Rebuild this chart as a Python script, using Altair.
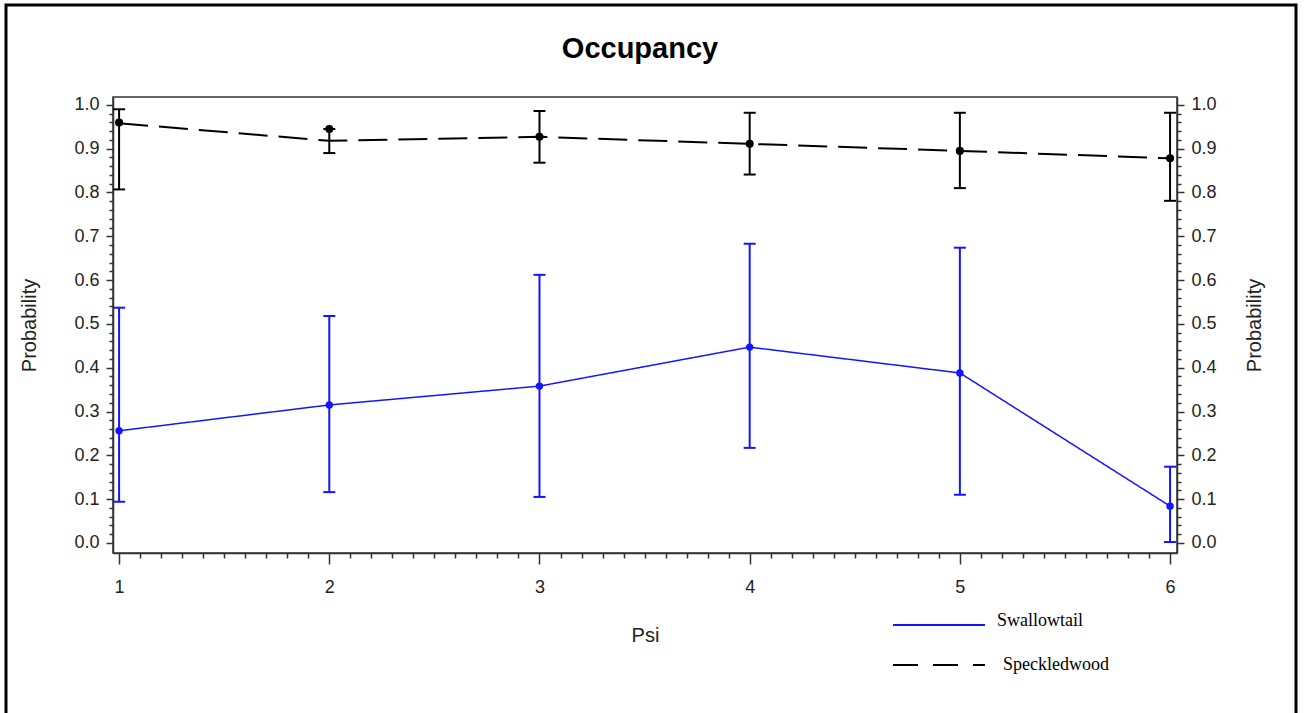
import altair as alt
import pandas as pd

# ---- data ----
psi = [1, 2, 3, 4, 5, 6]
series_names = ["Swallowtail", "Speckledwood"]

swallow_est = [0.256, 0.315, 0.358, 0.447, 0.388, 0.084]
swallow_lower = [0.094, 0.116, 0.105, 0.217, 0.110, 0.002]
swallow_upper = [0.537, 0.518, 0.612, 0.683, 0.674, 0.174]

speck_est = [0.960, 0.945, 0.927, 0.911, 0.895, 0.878]
speck_line = [0.958, 0.918, 0.927, 0.911, 0.895, 0.878]
speck_lower = [0.807, 0.890, 0.868, 0.841, 0.810, 0.781]
speck_upper = [0.990, 0.945, 0.986, 0.982, 0.982, 0.982]

x_tick_values = [round(1 + 0.1 * k, 1) for k in range(51)]
y_tick_values = [round(0.02 * k, 2) for k in range(51)]

sw = pd.DataFrame({"psi": psi, "est": swallow_est, "line": swallow_est,
                   "lower": swallow_lower, "upper": swallow_upper})
sp = pd.DataFrame({"psi": psi, "est": speck_est, "line": speck_line,
                   "lower": speck_lower, "upper": speck_upper})

BLUE = "#1414ff"
FONT = "Liberation Sans"
LABEL = "#222222"

xscale = alt.Scale(domain=[0.971, 6.033], nice=False, zero=False)
yscale = alt.Scale(domain=[-0.023, 1.018], nice=False, zero=False)

xaxis = alt.Axis(
    values=x_tick_values,
    labelExpr="abs(datum.value - round(datum.value)) < 0.001 ? format(datum.value, 'd') : ''",
    tickSize={"condition": {"test": "abs(datum.value - round(datum.value)) < 0.001", "value": 11}, "value": 5},
    labelPadding=14,
    title="Psi", titlePadding=29, titleFontSize=20, titleFont=FONT, titleFontWeight="normal",
    titleColor=LABEL, labelFont=FONT, labelFontSize=18, labelColor=LABEL,
    grid=False, domainColor="#333333", domainWidth=1.5, tickColor="#333333", tickWidth=1.5,
    labelFlush=False, labelOverlap=False,
)

def yaxis(orient, title_pad):
    return alt.Axis(
        orient=orient,
        values=y_tick_values,
        labelExpr="abs(datum.value*10 - round(datum.value*10)) < 0.001 ? format(datum.value, '.1f') : ''",
        tickSize={"condition": {"test": "abs(datum.value*10 - round(datum.value*10)) < 0.001", "value": 7}, "value": 4},
        labelPadding=7,
        title="Probability", titlePadding=title_pad, titleFontSize=20, titleFont=FONT,
        titleFontWeight="normal", titleColor=LABEL, titleAngle=270,
        labelFont=FONT, labelFontSize=18, labelColor=LABEL,
        grid=False, domainColor="#333333", domainWidth=1.5, tickColor="#333333", tickWidth=1.5,
        labelFlush=False, labelOverlap=False,
    )

X = alt.X("psi:Q", scale=xscale, axis=xaxis)

def series_layers(df, color, dash, width, axis, pt_size):
    base = alt.Chart(df)
    line = base.mark_line(color=color, strokeWidth=width, strokeDash=dash).encode(
        x=X, y=alt.Y("line:Q", scale=yscale, axis=axis))
    bar = base.mark_rule(color=color, strokeWidth=2).encode(
        x=X, y=alt.Y("lower:Q", scale=yscale, axis=None), y2="upper:Q")
    cap_lo = base.mark_rule(color=color, strokeWidth=2, xOffset=-6, x2Offset=6).encode(
        x=X, x2="psi:Q", y=alt.Y("lower:Q", scale=yscale, axis=None))
    cap_hi = base.mark_rule(color=color, strokeWidth=2, xOffset=-6, x2Offset=6).encode(
        x=X, x2="psi:Q", y=alt.Y("upper:Q", scale=yscale, axis=None))
    pts = base.mark_circle(color=color, size=pt_size, opacity=1).encode(
        x=X, y=alt.Y("est:Q", scale=yscale, axis=None))
    return [line, bar, cap_lo, cap_hi, pts]

sw_layers = series_layers(sw, BLUE, [1, 0], 1.5, yaxis("left", 34), 55)
sp_layers = series_layers(sp, "black", [29, 11], 2, yaxis("right", 48), 65)

# manual legend (two rows)
leg1 = pd.DataFrame({"series": [series_names[0]]})
leg2 = pd.DataFrame({"series": [series_names[1]]})
leg_line1 = alt.Chart(leg1).mark_rule(color=BLUE, strokeWidth=2).encode(
    x=alt.value(780), x2=alt.value(872), y=alt.value(528))
leg_text1 = alt.Chart(leg1).mark_text(align="left", baseline="middle", font="Liberation Serif",
                                      fontSize=18, color="black").encode(
    x=alt.value(884), y=alt.value(524), text="series:N")
leg_line2 = alt.Chart(leg2).mark_rule(color="black", strokeWidth=2, strokeDash=[25, 15]).encode(
    x=alt.value(780), x2=alt.value(872), y=alt.value(568))
leg_text2 = alt.Chart(leg2).mark_text(align="left", baseline="middle", font="Liberation Serif",
                                      fontSize=18, color="black").encode(
    x=alt.value(890), y=alt.value(568), text="series:N")

# outer frame of the figure
frame = alt.Chart(pd.DataFrame({"f": [0]})).mark_rect(
    fillOpacity=0, stroke="black", strokeWidth=3).encode(
    x=alt.value(-107), x2=alt.value(1183), y=alt.value(-92), y2=alt.value(650))

chart = alt.layer(
    frame, *sw_layers, *sp_layers, leg_line1, leg_text1, leg_line2, leg_text2
).resolve_axis(y="independent").properties(
    width=1064, height=456,
    title=alt.TitleParams("Occupancy", fontSize=29, font=FONT, fontWeight="bold",
                          anchor="middle", baseline="alphabetic", frame="group",
                          offset=-83, dx=-5, color="black"),
    autosize=alt.AutoSizeParams(type="none"),
    padding={"left": 113, "top": 97, "right": 127, "bottom": 160},
    background="white",
).configure_view(stroke="#333333", strokeWidth=1.5)

chart.save("out.html", embed_options={"renderer": "svg", "actions": False})
